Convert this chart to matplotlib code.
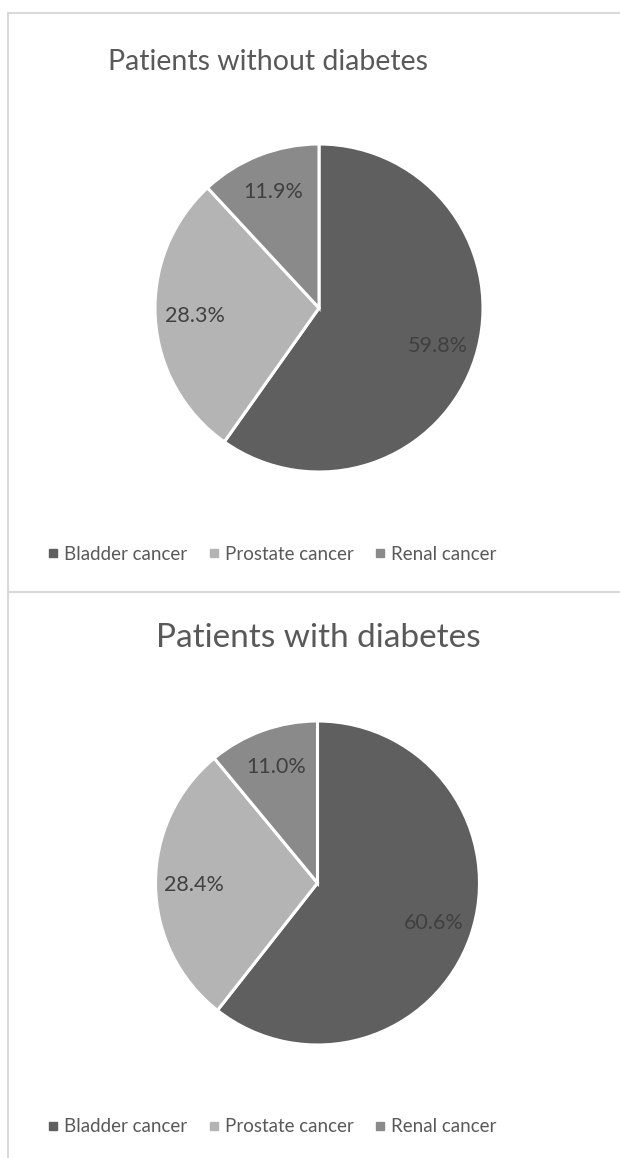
import matplotlib.pyplot as plt
from matplotlib.lines import Line2D

plt.rcParams['font.family'] = ['Lato', 'DejaVu Sans']

# kreftformer og andel pasienter (prosent)
kreftformer = ['Bladder cancer', 'Prostate cancer', 'Renal cancer']
uten_diabetes = [59.8, 28.3, 11.9]
med_diabetes = [60.6, 28.4, 11.0]
titler = ['Patients without diabetes', 'Patients with diabetes']
farger = ['#5f5f5f', '#b4b4b4', '#8a8a8a']

W, H = 620, 1158
fig = plt.figure(figsize=(W / 100, H / 100), dpi=100)
fig.patch.set_facecolor('white')


# hjelpefunksjon: piksler (fra øverste venstre hjørne) til figurkoordinater
def px(x, y):
    return x / W, 1 - y / H


def tegn_kake(verdier, sentrum, radius):
    cx, cy = sentrum
    ax = fig.add_axes([(cx - radius) / W, (H - cy - radius) / H,
                       2 * radius / W, 2 * radius / H])
    ax.pie(verdier, colors=farger, startangle=90, counterclock=False,
           autopct='%.1f%%', pctdistance=0.76,
           wedgeprops=dict(edgecolor='white', linewidth=2.2),
           textprops=dict(color='#404040', fontsize=15.5))
    ax.set_xlim(-1, 1)
    ax.set_ylim(-1, 1)
    ax.set_aspect('auto')
    ax.axis('off')
    return ax


tegn_kake(uten_diabetes, (319, 308), 164)
tegn_kake(med_diabetes, (317.5, 883), 162)

# titler
fig.text(*px(268, 62), titler[0], ha='center', va='center',
         fontsize=20.5, color='#595959')
fig.text(*px(318, 638), titler[1], ha='center', va='center',
         fontsize=24, color='#595959')

# forklaringer
handles = [Line2D([], [], marker='s', linestyle='', markersize=5.5,
                  color=f) for f in farger]
for y in (554, 1127):
    fig.legend(handles, kreftformer, loc='center', bbox_to_anchor=px(272, y),
               ncol=3, frameon=False, fontsize=13.5, handlelength=0.6,
               handletextpad=0.3, columnspacing=1.1, labelcolor='#595959')

# rammer rundt diagrammene
kant = '#d9d9d9'
fig.add_artist(Line2D([8 / W, 1], [1 - 13 / H, 1 - 13 / H], color=kant, lw=1.5))
fig.add_artist(Line2D([8 / W, 8 / W], [0, 1 - 13 / H], color=kant, lw=1.5))
fig.add_artist(Line2D([8 / W, 1], [1 - 592 / H, 1 - 592 / H], color=kant, lw=1.5))

fig.savefig('out.png', dpi=100, facecolor='white')
